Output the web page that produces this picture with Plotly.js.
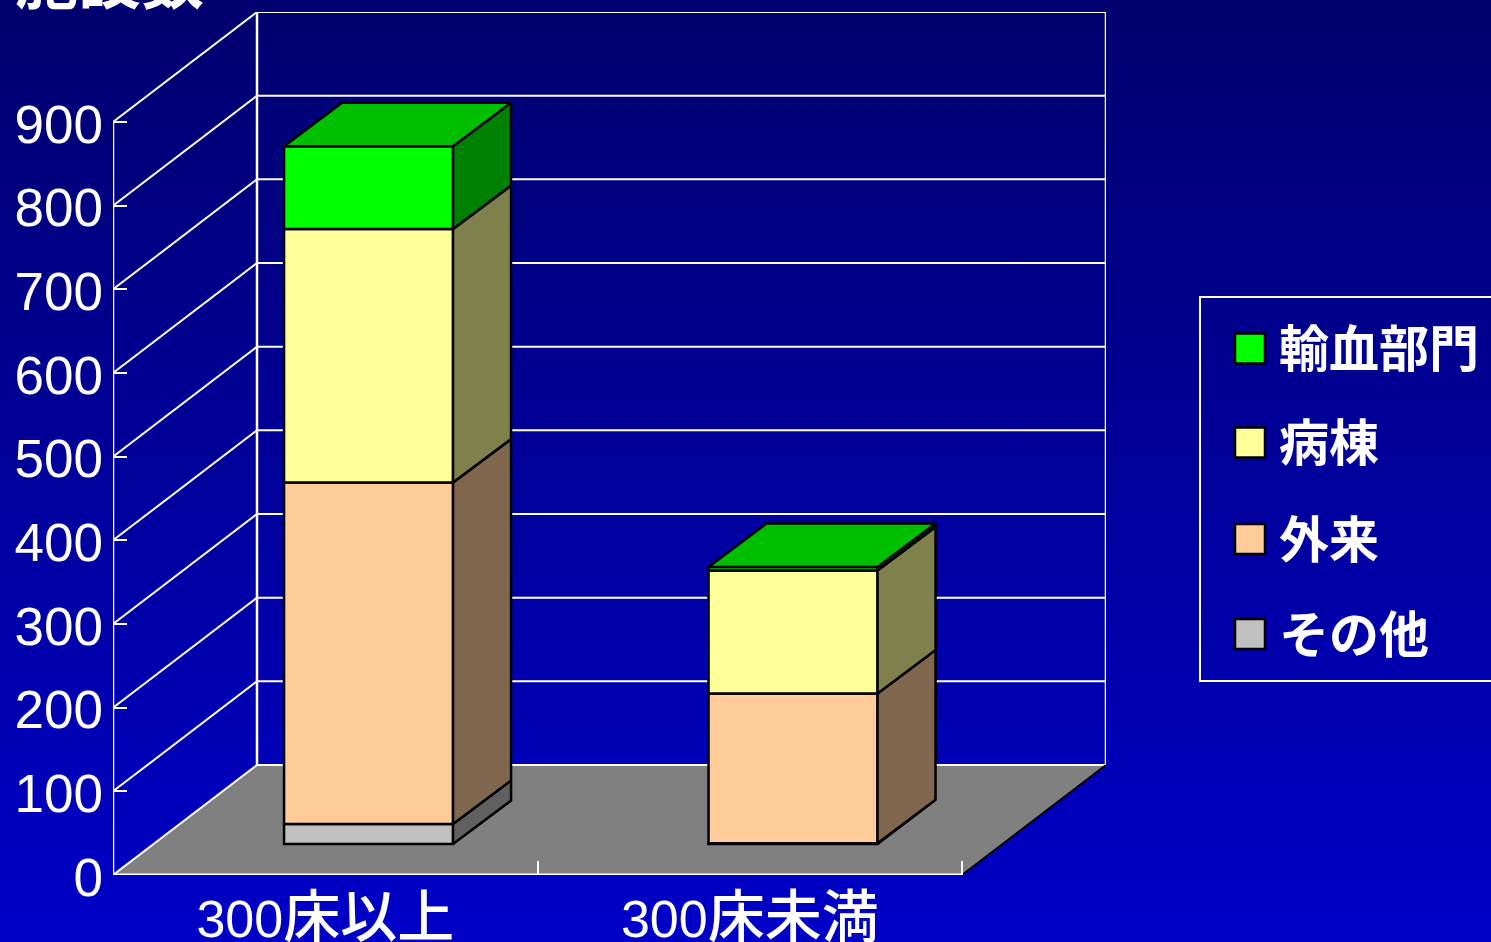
<!DOCTYPE html>
<html><head><meta charset="utf-8">
<script src="https://cdn.plot.ly/plotly-3.0.1.min.js"></script>
<style>
html,body{margin:0;padding:0;width:1491px;height:942px;overflow:hidden;background:linear-gradient(#00006E,#0000C8);}
#chart{width:1491px;height:942px;}
</style></head><body><div id="chart"></div>
<script>
// ---- data
const categories = ['300<span style="font-size:57px;font-weight:500">床以上</span>', '300<span style="font-size:57px;font-weight:500">床未満</span>'];
const seriesNames = ['その他', '外来', '病棟', '輸血部門'];
const sonota = [24, 1];
const gairai = [408, 179];
const byoto  = [303, 147];
const yuketsu = [99, 4];
const yTicks = [0,100,200,300,400,500,600,700,800,900];

// ---- styles
const frontColors = ['#C0C0C0','#FFCC99','#FFFF99','#00FF00'];
const sideColors  = ['#606060','#80664C','#80804C','#008000'];
const topColor = '#00BF00';
const FONT = '"Liberation Sans", "Noto Sans CJK JP", sans-serif';
const CJK = '"Noto Sans CJK JP", sans-serif';

// ---- pseudo-3D geometry, all in axis units
const W = 1491, H = 942, L = 113, R = 1106, T = 12, B = 875;
const pxX = 424.5, pxY = 753/900;
const xMax = (R-L)/pxX, yMax = (B-T)/pxY;
const wallDX = 144/pxX, wallDY = 110/pxY;
const barW = 169/pxX, barCenter = 0.602, barLift = 37;
const sideDX = 58/pxX, sideDY = 43.5/pxY;
const frontX = 2;            // right end of front floor edge

const stacks = [sonota, gairai, byoto, yuketsu];
const traces = [];
stacks.forEach((vals, s) => {
  const bases = vals.map((_, c) => barLift + stacks.slice(0, s).reduce((a, st) => a + st[c], 0));
  traces.push({type:'bar', name:seriesNames[s], x:vals.map((_,c)=>c+barCenter), y:vals, base:bases,
    width:barW, marker:{color:frontColors[s], line:{color:'#000', width:2.5}}, showlegend:false});
  vals.forEach((v, c) => {
    const xr = c + barCenter + barW/2, y0 = bases[c], y1 = y0 + v;
    traces.push({type:'scatter', mode:'lines', fill:'toself', fillcolor:sideColors[s], cliponaxis:false,
      x:[xr, xr+sideDX, xr+sideDX, xr, xr], y:[y0, y0+sideDY, y1+sideDY, y1, y0],
      line:{color:'#000', width:2.5}, showlegend:false});
    if (s === stacks.length-1) {
      const xl = xr - barW;
      traces.push({type:'scatter', mode:'lines', fill:'toself', fillcolor:topColor, cliponaxis:false,
        x:[xl, xr, xr+sideDX, xl+sideDX, xl], y:[y1, y1, y1+sideDY, y1+sideDY, y1],
        line:{color:'#000', width:2.5}, showlegend:false});
    }
  });
});

// ---- walls and floor
const WHITE = {color:'#fff', width:2};
const seg = (x0,y0,x1,y1,line) => ({type:'line',layer:'below',xref:'x',yref:'y',x0,y0,x1,y1,line});
const shapes = [];
shapes.push({type:'path',layer:'below',xref:'x',yref:'y',fillcolor:'#808080',line:{width:0},
  path:`M0,0L${wallDX},${wallDY}L${xMax},${wallDY}L${frontX},0Z`});
yTicks.forEach(v => {
  shapes.push(seg(0,v,wallDX,v+wallDY,WHITE));
  shapes.push(seg(wallDX,v+wallDY,xMax,v+wallDY,WHITE));
});
const topTick = yTicks[yTicks.length-1];
shapes.push(seg(0,0,0,topTick,{color:'#fff',width:2.5}));
shapes.push(seg(wallDX,wallDY,wallDX,topTick+wallDY,{color:'#fff',width:2.5}));
shapes.push(seg(xMax,wallDY,xMax,topTick+wallDY,{color:'#fff',width:2.5}));
shapes.push(seg(0,0,frontX,0,{color:'#fff',width:3}));
shapes.push(seg(frontX,0,xMax,wallDY,{color:'#000',width:2}));

// ---- legend box (drawn to reach past the right edge, as in the reference)
const px = (x) => (x-L)/(R-L), py = (y) => (B-y)/(B-T);
shapes.push({type:'rect',layer:'above',xref:'paper',yref:'paper',x0:px(1200),x1:px(1500),y0:py(681),y1:py(297),
  line:{color:'#fff',width:2},fillcolor:'rgba(0,0,0,0)'});
const legendNames = ['輸血部門','病棟','外来','その他'];
const legendColors = ['#00FF00','#FFFF99','#FFCC99','#C0C0C0'];
const legendY = [348.5,442.5,539,634];
const annotations = [];
legendNames.forEach((n,i)=>{
  shapes.push({type:'rect',layer:'above',xref:'paper',yref:'paper',x0:px(1235),x1:px(1265),
    y0:py(legendY[i]+15),y1:py(legendY[i]-15),fillcolor:legendColors[i],line:{color:'#000',width:2.5}});
  annotations.push({xref:'paper',yref:'paper',x:px(1277),y:py(legendY[i]-3.5),xanchor:'left',yanchor:'middle',
    showarrow:false,text:n,font:{family:CJK,size:50,color:'#fff',weight:700}});
});
annotations.push({xref:'paper',yref:'paper',x:px(109),y:py(-24),xanchor:'center',yanchor:'middle',showarrow:false,
  text:'施設数',font:{family:CJK,size:63,color:'#fff',weight:700}});

const layout = {
  width:W,height:H,margin:{l:L,r:W-R,t:T,b:H-B,pad:0},autosize:false,
  paper_bgcolor:'rgba(0,0,0,0)',plot_bgcolor:'rgba(0,0,0,0)',
  barmode:'overlay',showlegend:false,
  xaxis:{range:[0,xMax],showgrid:false,zeroline:false,showline:false,
    tickmode:'array',tickvals:[0.5,1.5],ticktext:categories,ticks:'',ticklabelstandoff:9,
    tickfont:{family:FONT,size:52,color:'#fff'},
    minor:{tickmode:'array',tickvals:[1,2],ticks:'inside',ticklen:14,tickwidth:2,tickcolor:'#fff',showgrid:false}},
  yaxis:{range:[0,yMax],showgrid:false,zeroline:false,showline:false,
    tickmode:'array',tickvals:yTicks,ticktext:yTicks.map(String),ticks:'inside',ticklen:14,tickwidth:2,tickcolor:'#fff',
    ticklabelstandoff:9,ticklabelshift:2,tickfont:{family:FONT,size:53,color:'#fff'}},
  shapes,annotations
};
Plotly.newPlot('chart',traces,layout,{staticPlot:true,displayModeBar:false});
</script></body></html>
